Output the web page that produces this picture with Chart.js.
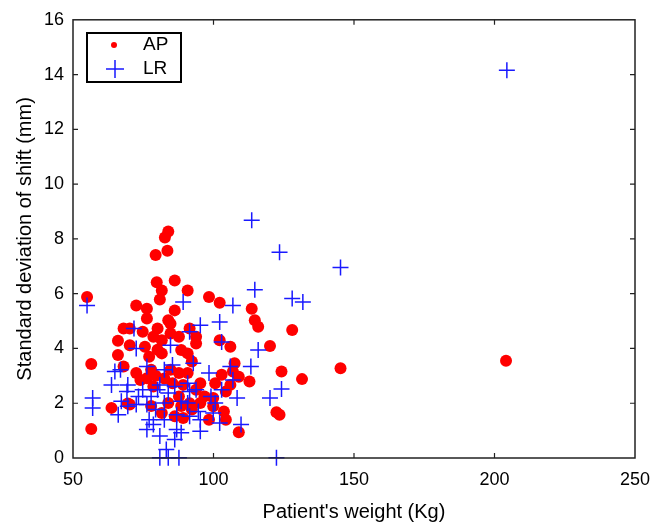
<!DOCTYPE html>
<html>
<head>
<meta charset="utf-8">
<script src="https://cdn.jsdelivr.net/npm/chart.js@4/dist/chart.umd.min.js"></script>
<style>
  html, body { margin: 0; padding: 0; background: #fff; }
  #box { width: 667px; height: 524px; }
</style>
</head>
<body>
<div id="box"><canvas id="grafico" width="667" height="524"></canvas></div>
<script>
// AP: red dots
const apWeight = [55.0, 56.5, 56.5, 63.7, 66.0, 66.0, 68.0, 68.0, 70.2, 70.2, 72.5, 76.3, 76.3, 74.8, 72.5, 70.2, 74.0,
  79.4, 79.8, 81.6, 80.9, 82.7, 83.9, 83.6, 86.2, 90.8, 86.2, 83.9, 81.6, 80.1, 84.7, 81.6, 87.7, 88.5, 90.8, 92.3,
  91.5, 93.8, 93.8, 77.1, 77.8, 78.6, 84.7, 87.7, 90.8, 85.4, 89.2, 95.3, 93.8, 87.7, 83.9, 81.6, 86.2, 89.2, 92.3,
  95.3, 98.4, 98.4, 102.2, 102.2, 106.0, 102.9, 107.5, 106.9, 106.0, 104.4, 99.9, 103.7, 104.4, 109.0, 109.0, 113.6,
  114.7, 115.9, 120.1, 112.8, 124.2, 122.4, 123.5, 128.0, 131.5, 145.2, 204.1, 69.5, 75.6, 78.6, 96.8, 99.9, 100.6,
  79.4, 82.5, 80.1, 84.7, 88.5, 77.8, 91.5, 76.3];
const apShift = [5.88, 3.43, 1.06, 1.83, 4.28, 3.76, 3.34, 4.73, 4.73, 4.12, 5.57, 5.45, 5.09, 4.61, 3.10, 1.95, 2.85,
  7.41, 6.42, 6.12, 5.79, 8.05, 8.27, 7.57, 6.48, 6.12, 5.39, 5.03, 4.30, 4.73, 4.55, 3.82, 4.43, 3.94, 3.82, 3.52,
  4.73, 4.43, 4.18, 3.70, 3.22, 2.61, 3.22, 3.10, 3.10, 2.73, 2.67, 2.73, 2.49, 2.25, 2.01, 1.64, 1.52, 1.46, 1.77,
  2.01, 1.40, 5.88, 5.67, 4.30, 4.06, 3.04, 3.46, 3.16, 2.67, 2.43, 2.19, 1.70, 1.40, 0.94, 2.97, 5.45,
  5.03, 4.79, 4.09, 2.79, 3.16, 1.67, 1.58, 4.67, 2.88, 3.28, 3.55, 1.99, 4.06, 4.43, 2.25, 1.89, 2.73,
  3.00, 2.90, 3.95, 4.90, 1.90, 1.90, 2.00, 2.91];

// LR: blue crosses
const lrWeight = [55.0, 57.0, 57.0, 63.7, 64.9, 66.9, 66.1, 67.2, 69.2, 69.5, 71.7, 72.5, 73.3, 74.8, 76.3, 76.3, 76.3,
  77.1, 77.8, 79.4, 80.1, 80.9, 82.5, 82.5, 83.2, 83.9, 84.7, 85.4, 86.2, 86.9, 87.7, 88.5, 83.9, 82.5, 86.2, 88.5,
  89.2, 91.5, 95.3, 90.8, 91.5, 92.8, 93.8, 91.5, 95.3, 94.6, 98.4, 99.1, 100.6, 99.9, 102.2, 102.9, 102.9, 102.2,
  106.9, 106.0, 106.9, 108.4, 109.8, 113.3, 113.6, 114.7, 115.9, 120.1, 122.4, 124.2, 123.5, 128.0, 131.8, 145.2,
  204.4, 69.5, 72.5, 80.9, 78.6, 90.8, 95.3, 86.9, 80.9];
const lrShift = [5.57, 2.19, 1.83, 2.67, 3.16, 3.22, 1.58, 2.07, 2.43, 2.67, 4.73, 4.00, 2.25, 2.49, 3.34, 1.95, 1.04,
  1.40, 2.25, 1.77, 2.49, 0.01, 1.40, 3.22, 0.31, 0.01, 4.12, 3.40, 0.68, 1.04, 0.01, 0.92, 2.37, 2.01, 2.61, 2.07,
  5.70, 4.61, 4.85, 2.73, 2.43, 3.46, 2.49, 1.52, 0.98, 1.70, 3.10, 2.25, 2.01, 1.64, 4.97, 4.24, 2.49, 1.28,
  5.57, 3.34, 2.85, 2.19, 1.22, 3.34, 8.68, 6.14, 3.94, 2.19, 0.01, 2.52, 7.51, 5.82, 5.70, 6.96,
  14.16, 1.89, 1.95, 2.67, 1.22, 2.01, 1.40, 1.58, 0.80];

const xTicks = [50, 100, 150, 200, 250];
const yTicks = [0, 2, 4, 6, 8, 10, 12, 14, 16];

const apColor = 'rgb(255, 0, 0)';
const lrColor = 'rgb(25, 25, 255)';
const fonte = '"Liberation Sans", Arial, sans-serif';

const moldura = {
  id: 'moldura',
  afterDraw(chart) {
    const ctx = chart.ctx;
    const a = chart.chartArea;
    const xs = chart.scales.x, ys = chart.scales.y;
    ctx.save();
    ctx.strokeStyle = '#222';
    ctx.lineWidth = 1.5;
    ctx.strokeRect(a.left, a.top, a.right - a.left, a.bottom - a.top);
    ctx.lineWidth = 1.2;
    ctx.beginPath();
    xTicks.slice(1, -1).forEach(v => {
      const px = xs.getPixelForValue(v);
      ctx.moveTo(px, a.bottom); ctx.lineTo(px, a.bottom - 5);
      ctx.moveTo(px, a.top); ctx.lineTo(px, a.top + 5);
    });
    yTicks.slice(1, -1).forEach(v => {
      const py = ys.getPixelForValue(v);
      ctx.moveTo(a.left, py); ctx.lineTo(a.left + 5, py);
      ctx.moveTo(a.right, py); ctx.lineTo(a.right - 5, py);
    });
    ctx.stroke();

    // legenda
    const lx = 87, ly = 33, lw = 94, lh = 49;
    ctx.fillStyle = '#fff';
    ctx.fillRect(lx, ly, lw, lh);
    ctx.strokeStyle = '#000';
    ctx.lineWidth = 2;
    ctx.strokeRect(lx, ly, lw, lh);
    ctx.fillStyle = apColor;
    ctx.beginPath();
    ctx.arc(114, 45, 3, 0, Math.PI * 2);
    ctx.fill();
    ctx.strokeStyle = lrColor;
    ctx.lineWidth = 1.5;
    ctx.beginPath();
    ctx.moveTo(106, 69); ctx.lineTo(124, 69);
    ctx.moveTo(115, 60); ctx.lineTo(115, 78);
    ctx.stroke();
    ctx.fillStyle = '#000';
    ctx.font = '19px ' + fonte;
    ctx.textBaseline = 'middle';
    ctx.textAlign = 'left';
    ctx.fillText(chart.data.datasets[0].label, 143, 45);
    ctx.fillText(chart.data.datasets[1].label, 143, 69);
    ctx.restore();
  }
};

const config = {
  type: 'scatter',
  data: {
    datasets: [{
      label: 'AP',
      data: apWeight.map((w, i) => ({ x: w, y: apShift[i] })),
      backgroundColor: apColor,
      borderColor: apColor,
      pointRadius: 6,
      pointBorderWidth: 0,
      order: 1,
      clip: false
    }, {
      label: 'LR',
      data: lrWeight.map((w, i) => ({ x: w, y: lrShift[i] })),
      pointStyle: 'cross',
      borderColor: lrColor,
      backgroundColor: lrColor,
      pointRadius: 8,
      pointBorderWidth: 1.5,
      order: 0,
      clip: false
    }]
  },
  options: {
    animation: false,
    responsive: false,
    devicePixelRatio: 1,
    layout: { padding: { left: 0, right: 32, top: 14, bottom: 0 } },
    scales: {
      x: {
        type: 'linear',
        min: 50,
        max: 250,
        afterFit: s => { s.height = 66; },
        afterBuildTicks: s => { s.ticks = xTicks.map(v => ({ value: v })); },
        grid: { display: false, drawTicks: false },
        border: { display: false },
        ticks: { color: '#000', padding: 11, font: { family: fonte, size: 18 } },
        title: {
          display: true,
          text: "Patient's weight (Kg)",
          color: '#000',
          padding: { top: 1, bottom: 0 },
          font: { family: fonte, size: 20 }
        }
      },
      y: {
        type: 'linear',
        min: 0,
        max: 16,
        afterFit: s => { s.width = 73; },
        afterBuildTicks: s => { s.ticks = yTicks.map(v => ({ value: v })); },
        grid: { display: false, drawTicks: false },
        border: { display: false },
        ticks: { color: '#000', padding: 9, font: { family: fonte, size: 18 } },
        title: {
          display: true,
          text: 'Standard deviation of shift (mm)',
          color: '#000',
          padding: { top: 13, bottom: 0 },
          font: { family: fonte, size: 20 }
        }
      }
    },
    plugins: {
      legend: { display: false },
      tooltip: { enabled: false }
    }
  },
  plugins: [moldura]
};

const grafico = new Chart(document.getElementById('grafico').getContext('2d'), config);
</script>
</body>
</html>
